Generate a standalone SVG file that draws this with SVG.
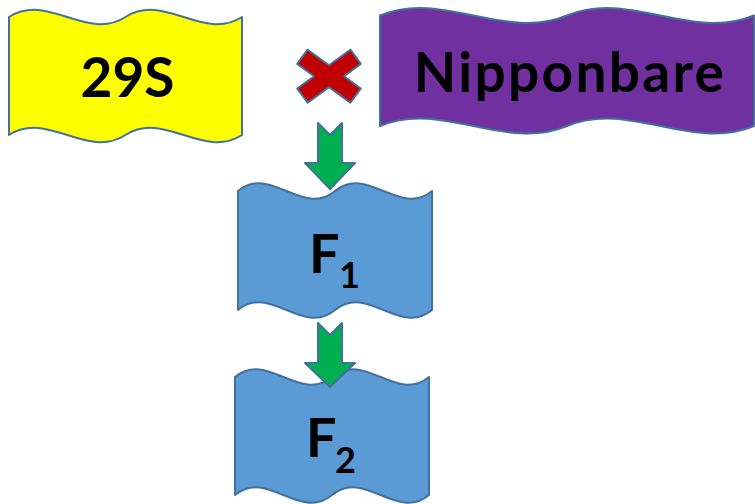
<svg xmlns="http://www.w3.org/2000/svg" width="755" height="504" viewBox="0 0 755 504">
<style>
.shape{stroke:#41719C;stroke-width:2;stroke-linejoin:round}
.lbl{font-family:Lato,"Open Sans","Liberation Sans",sans-serif;font-weight:bold;fill:#000}
.big{font-size:55px}
.f{font-size:54px}
.sub{font-size:36px}
</style>
<rect width="755" height="504" fill="#fff"/>
<g id="node-29S">
<path class="shape" fill="#FFFF00" d="M9,17 C47.8,-8 86.7,42 125.5,17 C164.3,-8 203.2,42 242,17 L242,135 C203.2,160 164.3,110 125.5,135 C86.7,160 47.8,110 9,135 Z"/>
<text class="lbl big" x="127.5" y="96.5" text-anchor="middle">29S</text>
</g>
<g id="cross">
<polygon class="shape" fill="#C00000" points="307.6,49.7 329,65.3 350.4,49.7 360.8,63.9 343.9,76.2 360.8,88.5 350.4,102.7 329,87.1 307.6,102.7 297.2,88.5 314.1,76.2 297.2,63.9"/>
</g>
<g id="node-Nipponbare">
<path class="shape" fill="#7030A0" d="M380,15.5 C442.3,-10.5 504.7,41.5 567,15.5 C629.3,-10.5 691.7,41.5 754,15.5 L754,126 C691.7,152 629.3,100 567,126 C504.7,152 442.3,100 380,126 Z"/>
<text class="lbl big" x="570" y="92" text-anchor="middle" letter-spacing="2.3">Nipponbare</text>
</g>
<g id="node-F1">
<path class="shape" fill="#5B9BD5" d="M238,191 C270.3,164 302.7,218 335,191 C367.3,164 399.7,218 432,191 L432,310 C399.7,337 367.3,283 335,310 C302.7,337 270.3,283 238,310 Z"/>
<text class="lbl f" x="309" y="272.7">F</text>
<text class="lbl sub" x="339" y="288.3">1</text>
</g>
<g id="node-F2">
<path class="shape" fill="#5B9BD5" d="M235,377 C267.3,350 299.7,404 332,377 C364.3,350 396.7,404 429,377 L429,495 C396.7,522 364.3,468 332,495 C299.7,522 267.3,468 235,495 Z"/>
<text class="lbl f" x="306" y="456.7">F</text>
<text class="lbl sub" x="335" y="473.3">2</text>
</g>
<g id="connectors">
<polygon class="shape" fill="#00B050" points="318,123 330,135 342,123 342,163 355,163 330,189 305,163 318,163"/>
<polygon class="shape" fill="#00B050" points="318,323 330,335 342,323 342,363 355,363 330,387 305,363 318,363"/>
</g>
</svg>
